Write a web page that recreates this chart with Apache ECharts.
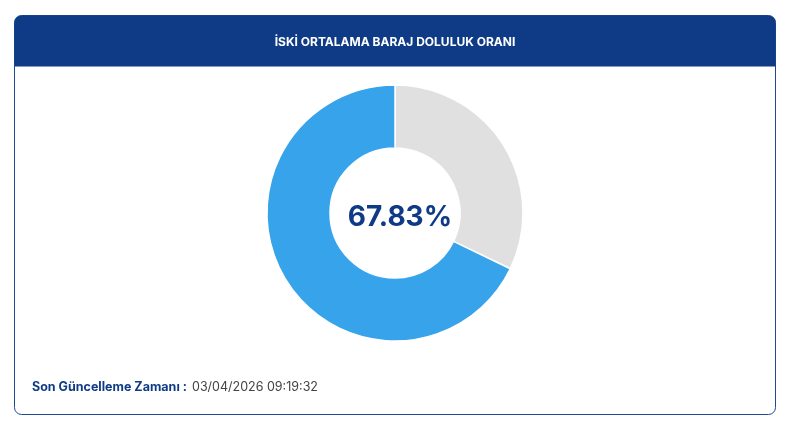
<!DOCTYPE html>
<html><head><meta charset="utf-8">
<script src="https://cdn.jsdelivr.net/npm/echarts@6/dist/echarts.min.js"></script>
<style>html,body{margin:0;padding:0;background:#fff}#c{width:800px;height:425px}</style>
</head><body><div id="c"></div>
<script>
const title = "İSKİ ORTALAMA BARAJ DOLULUK ORANI";
const categories = ["Boş", "Dolu"];
const values = [32.17, 67.83];
const centerLabel = "67.83%";
const footerLabel = "Son Güncelleme Zamanı :";
const footerValue = "03/04/2026 09:19:32";

const chart = echarts.init(document.getElementById('c'));
chart.setOption({
  animation: false,
  graphic: [
    {type:'rect', shape:{x:14.5,y:15.5,width:761,height:399,r:7}, style:{fill:'#fff',stroke:'#1f4a92',lineWidth:1}, z:0},
    {type:'rect', shape:{x:14.5,y:15.5,width:761,height:51,r:[7,7,0,0]}, style:{fill:'#0f3b86'}, z:1},
    {type:'text', x:395, y:42, style:{text:title, fill:'#fff', font:'bold 12px Inter, "Noto Sans", sans-serif', align:'center', verticalAlign:'middle'}, z:2},
    {type:'text', x:32, y:387, style:{text:footerLabel, fill:'#0f3b86', font:'bold 12.5px Inter, "Noto Sans", sans-serif', verticalAlign:'middle'}, z:2},
    {type:'text', x:192, y:387, style:{text:footerValue, fill:'#444', font:'12.5px Inter, "Noto Sans", sans-serif', verticalAlign:'middle'}, z:2}
  ],
  series: [{
    type:'pie', center:[395,213], radius:[65,128], startAngle:90, clockwise:true,
    silent:true, z:3,
    itemStyle:{borderColor:'#fff', borderWidth:1.5},
    label:{show:false}, labelLine:{show:false},
    data: categories.map((n,i)=>({name:n, value:values[i], itemStyle:{color: i===0?'#e0e0e0':'#37a3eb'}}))
  }],
  title: {text:centerLabel, left:395, top:213, textAlign:'center', textVerticalAlign:'middle',
    textStyle:{color:'#0f3b86', fontSize:28, fontWeight:'bold', fontFamily:'Inter, "Noto Sans", sans-serif'}}
});
</script></body></html>
